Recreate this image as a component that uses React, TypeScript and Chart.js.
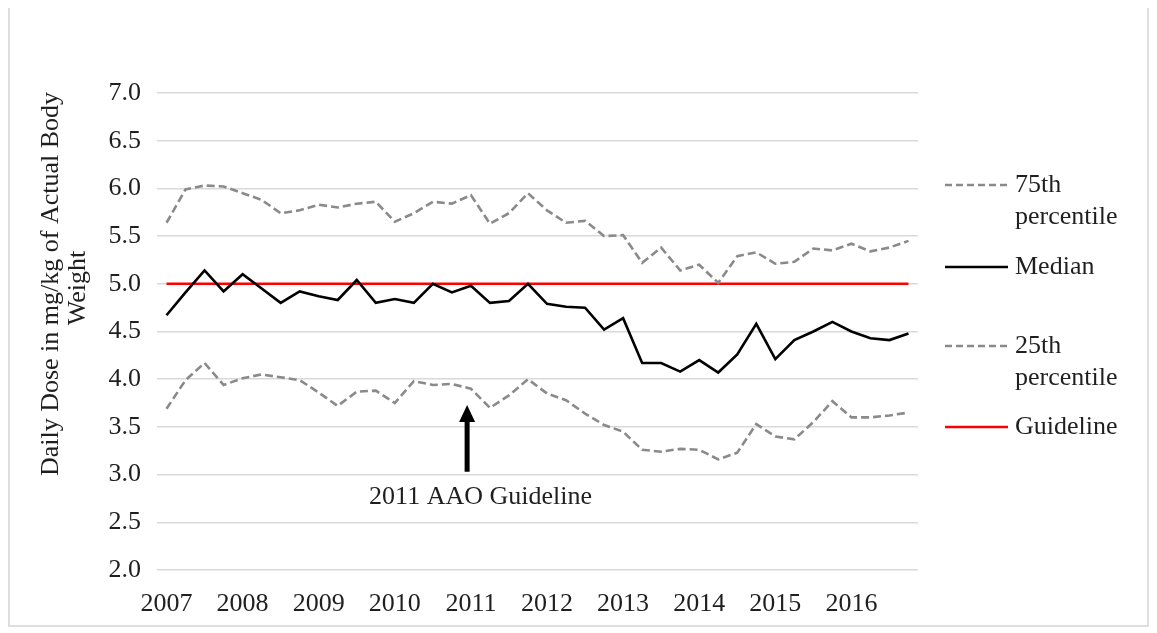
import React, { useEffect, useRef } from "react";
import { Chart, registerables } from "chart.js";

Chart.register(...registerables);

const years = ["2007", "2008", "2009", "2010", "2011", "2012", "2013", "2014", "2015", "2016"];
const quarters = ["Q1", "Q2", "Q3", "Q4"];
const categories = years.flatMap((y) => quarters.map((q) => `${y} ${q}`));

const p75 = [5.64, 5.99, 6.03, 6.02, 5.95, 5.88, 5.74, 5.77, 5.83, 5.80, 5.84, 5.86, 5.65, 5.74, 5.86, 5.84, 5.93, 5.63, 5.74, 5.95, 5.77, 5.64, 5.66, 5.50, 5.51, 5.22, 5.38, 5.14, 5.20, 5.01, 5.29, 5.33, 5.21, 5.23, 5.37, 5.35, 5.42, 5.34, 5.38, 5.45];
const median = [4.67, 4.91, 5.14, 4.92, 5.10, 4.95, 4.80, 4.92, 4.87, 4.83, 5.04, 4.80, 4.84, 4.80, 5.00, 4.91, 4.98, 4.80, 4.82, 5.00, 4.79, 4.76, 4.75, 4.52, 4.64, 4.17, 4.17, 4.08, 4.20, 4.07, 4.26, 4.58, 4.21, 4.41, 4.50, 4.60, 4.50, 4.43, 4.41, 4.48];
const p25 = [3.69, 3.99, 4.17, 3.94, 4.01, 4.05, 4.02, 3.99, 3.86, 3.72, 3.87, 3.88, 3.75, 3.98, 3.94, 3.95, 3.90, 3.70, 3.83, 4.00, 3.85, 3.78, 3.64, 3.52, 3.45, 3.26, 3.24, 3.27, 3.26, 3.16, 3.23, 3.53, 3.40, 3.37, 3.55, 3.77, 3.60, 3.60, 3.62, 3.65];
const guideline = [5, 5, 5, 5, 5, 5, 5, 5, 5, 5, 5, 5, 5, 5, 5, 5, 5, 5, 5, 5, 5, 5, 5, 5, 5, 5, 5, 5, 5, 5, 5, 5, 5, 5, 5, 5, 5, 5, 5, 5];

const yTitle = ["Daily Dose in mg/kg of Actual Body", "Weight"];
const annotationText = "2011 AAO Guideline";
const annotationIndex = 15.8;
const arrowTipValue = 3.73;
const arrowBaseValue = 3.03;
const annotationTextValue = 2.76;

const FONT = '"Liberation Serif", "Times New Roman", serif';
const TEXT = "#1f1f1f";
const GRAY = "#8a8a8a";

const legendItems = [
  { lines: ["75th", "percentile"], color: GRAY, dash: [7, 4], y: 177 },
  { lines: ["Median"], color: "#000000", dash: [], y: 259 },
  { lines: ["25th", "percentile"], color: GRAY, dash: [7, 4], y: 338 },
  { lines: ["Guideline"], color: "#ff0000", dash: [], y: 419 },
];

const overlayPlugin = {
  id: "overlay",
  afterDraw(chart: any) {
    const ctx = chart.ctx as CanvasRenderingContext2D;
    const { chartArea } = chart;
    const xs = chart.scales.x;
    const ys = chart.scales.y;
    ctx.save();
    // y title
    ctx.fillStyle = TEXT;
    ctx.font = `26px ${FONT}`;
    ctx.textAlign = "center";
    ctx.textBaseline = "middle";
    const cys = [276, 280];
    const xsTitle = [41, 68];
    yTitle.forEach((t, i) => {
      ctx.save();
      ctx.translate(xsTitle[i], cys[i]);
      ctx.rotate(-Math.PI / 2);
      ctx.fillText(t, 0, 0);
      ctx.restore();
    });
    // arrow
    const ax = xs.getPixelForValue(annotationIndex);
    const tip = ys.getPixelForValue(arrowTipValue);
    const base = ys.getPixelForValue(arrowBaseValue);
    ctx.fillStyle = "#000000";
    ctx.fillRect(ax - 2.5, tip + 14, 5, base - tip - 14);
    ctx.beginPath();
    ctx.moveTo(ax, tip);
    ctx.lineTo(ax - 8, tip + 17);
    ctx.lineTo(ax + 8, tip + 17);
    ctx.closePath();
    ctx.fill();
    ctx.fillStyle = TEXT;
    ctx.font = `26px ${FONT}`;
    ctx.textAlign = "left";
    ctx.fillText(annotationText, ax - 98, ys.getPixelForValue(annotationTextValue));
    // legend
    const lx0 = chartArea.right + 27;
    const lx1 = lx0 + 63;
    ctx.font = `26px ${FONT}`;
    ctx.textAlign = "left";
    legendItems.forEach((it) => {
      ctx.strokeStyle = it.color;
      ctx.lineWidth = 2.5;
      ctx.setLineDash(it.dash);
      ctx.beginPath();
      ctx.moveTo(lx0, it.y);
      ctx.lineTo(lx1, it.y);
      ctx.stroke();
      ctx.setLineDash([]);
      ctx.fillStyle = TEXT;
      it.lines.forEach((l, j) => ctx.fillText(l, lx1 + 7, it.y + j * 32));
    });
    ctx.restore();
  },
};

export default function App() {
  const ref = useRef<HTMLCanvasElement | null>(null);
  useEffect(() => {
    if (!ref.current) return;
    const chart = new Chart(ref.current, {
      type: "line",
      data: {
        labels: categories,
        datasets: [
          { label: "75th percentile", data: p75, borderColor: GRAY, borderWidth: 2.6, borderDash: [8, 4], pointRadius: 0, tension: 0, fill: false },
          { label: "Median", data: median, borderColor: "#000000", borderWidth: 2.6, pointRadius: 0, tension: 0, fill: false },
          { label: "25th percentile", data: p25, borderColor: GRAY, borderWidth: 2.6, borderDash: [8, 4], pointRadius: 0, tension: 0, fill: false },
          { label: "Guideline", data: guideline, borderColor: "#ff0000", borderWidth: 2.6, pointRadius: 0, tension: 0, fill: false },
        ],
      },
      options: {
        responsive: false,
        animation: false,
        layout: { padding: { left: 0, right: 229, top: 85, bottom: 0 } },
        plugins: { legend: { display: false }, tooltip: { enabled: false }, title: { display: false } },
        scales: {
          x: {
            type: "category",
            offset: true,
            grid: { display: false, drawTicks: false },
            border: { display: false },
            afterFit: (s: any) => { s.height = 55; },
            ticks: {
              autoSkip: false,
              maxRotation: 0,
              minRotation: 0,
              padding: 19,
              color: TEXT,
              font: { family: FONT, size: 26 },
              callback: (_v: any, i: number) => (i % 4 === 0 ? years[i / 4] : ""),
            },
          },
          y: {
            min: 2,
            max: 7,
            grid: { color: "#d9d9d9", lineWidth: 1.5, drawTicks: false },
            border: { display: false },
            afterFit: (s: any) => { s.width = 147; },
            ticks: {
              stepSize: 0.5,
              padding: 16,
              color: TEXT,
              font: { family: FONT, size: 26 },
              callback: (v: any) => Number(v).toFixed(1),
            },
          },
        },
      },
      plugins: [overlayPlugin],
    });
    return () => chart.destroy();
  }, []);
  return (
    <div style={{ width: 1141, height: 621, border: "2px solid #dedede", boxSizing: "border-box", marginTop: -2, background: "#fff" }}>
      <canvas ref={ref} width={1137} height={617} style={{ display: "block" }} />
    </div>
  );
}
